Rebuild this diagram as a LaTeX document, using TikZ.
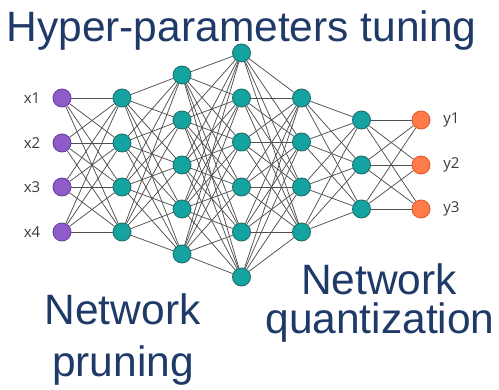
\documentclass[tikz,border=0pt]{standalone}
\usepackage{fontspec}
\setmainfont{Liberation Sans}
\newfontfamily\lblfont{Open Sans}
\definecolor{navy}{HTML}{1F3A68}
\definecolor{tealf}{HTML}{14A3A0}
\definecolor{teald}{HTML}{1F6F6C}
\definecolor{purpf}{HTML}{8E5CC9}
\definecolor{purpd}{HTML}{6B3FA0}
\definecolor{orgf}{HTML}{FF7B4A}
\definecolor{orgd}{HTML}{E55C2A}
\definecolor{lblc}{HTML}{3A3A3A}
\definecolor{edgec}{HTML}{505050}
\pgfdeclarelayer{bg}
\pgfsetlayers{bg,main}
\begin{document}
\begin{tikzpicture}[x=1pt,y=-1pt,
  neuron/.style={circle,minimum size=18pt,inner sep=0pt,line width=0.9pt},
  hid/.style={neuron,fill=tealf,draw=teald},
  inp/.style={neuron,fill=purpf,draw=purpd},
  outp/.style={neuron,fill=orgf,draw=orgd},
  conn/.style={draw=edgec,line width=0.75pt},
  lbl/.style={font=\lblfont\fontsize{15}{17}\selectfont,text=lblc},
  big/.style={font=\fontsize{42.5}{50}\selectfont,text=navy,anchor=base,inner sep=0pt}]
\useasboundingbox (0,0) rectangle (499,390);
% input layer
\foreach \y [count=\i] in {98,143,187,232} {
  \node[inp] (n0-\i) at (62,\y) {};
  \node[lbl] (x\i) at (32,\y) {x\i};
}
% hidden layers
\foreach \y [count=\i] in {98,143,187,232} \node[hid] (n1-\i) at (122,\y) {};
\foreach \y [count=\i] in {75,120,165,209,254} \node[hid] (n2-\i) at (182,\y) {};
\foreach \y [count=\i] in {53,98,142,187,232,277} \node[hid] (n3-\i) at (241.5,\y) {};
\foreach \y [count=\i] in {98,142,187,232} \node[hid] (n4-\i) at (301.5,\y) {};
\foreach \y [count=\i] in {120,165,209} \node[hid] (n5-\i) at (361.5,\y) {};
% output layer
\foreach \y [count=\i] in {120,165,209} {
  \node[outp] (n6-\i) at (421,\y) {};
  \node[lbl] (y\i) at (451.5,\y) {y\i};
}
% connections
\begin{pgfonlayer}{bg}
\foreach \a/\b/\na/\nb in {0/1/4/4,1/2/4/5,2/3/5/6,3/4/6/4,4/5/4/3,5/6/3/3} {
  \foreach \i in {1,...,\na} {
    \foreach \j in {1,...,\nb} {
      \draw[conn] (n\a-\i) -- (n\b-\j);
    }
  }
}
\end{pgfonlayer}
% texts
\node[big] (title) at (241.5,42) {Hyper-parameters tuning};
\node[big] (prun1) at (122.5,325) {Network};
\node[big] (prun2) at (123,377) {pruning};
\node[big] (quan1) at (379,295) {Network};
\node[big] (quan2) at (380,334) {quantization};
\end{tikzpicture}
\end{document}
